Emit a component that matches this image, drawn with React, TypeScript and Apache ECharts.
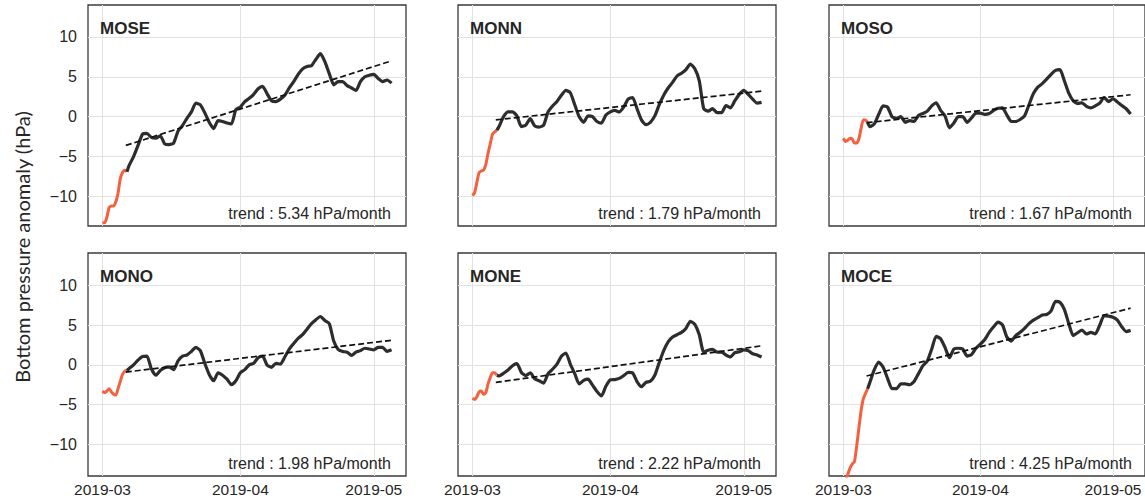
import React, { useEffect, useRef } from "react";
import * as echarts from "echarts";

// ---- data (days since 2019-03-01) ----
const PANELS = ["MOSE", "MONN", "MOSO", "MONO", "MONE", "MOCE"];
const TRENDS = ["5.34", "1.79", "1.67", "1.98", "2.22", "4.25"];

const RED_DAYS = [0, 0.5, 1, 1.5, 2, 2.5, 3, 3.5, 4, 4.5, 5, 5.5];
const BLACK_DAYS = Array.from({ length: 60 }, (_, i) => 6 + i);
const TREND_DAYS = [5.25, 65];

const X_TICK_DAYS = [0, 31, 61];
const X_TICK_LABELS = ["2019-03", "2019-04", "2019-05"];
const Y_TICKS = [-10, -5, 0, 5, 10];

const MOSE_RED = [-13.3, -13.3, -12.6, -11.4, -11.2, -11.2, -10.7, -9.6, -7.8, -7.0, -6.7, -6.9];
const MOSE = [-6.1, -5.0, -3.6, -2.2, -2.1, -2.6, -2.7, -2.4, -3.4, -3.5, -3.3, -1.8, -1.1, -0.2, 0.6, 1.7, 1.5, 0.5, -0.7, -1.5,
  -0.5, -0.6, -0.8, -0.9, 0.9, 1.2, 1.9, 2.3, 2.8, 3.5, 3.8, 2.9, 2.0, 1.9, 2.2, 2.7, 3.6, 4.4, 5.3, 6.0,
  6.3, 6.4, 7.2, 7.9, 6.9, 5.4, 4.0, 4.4, 4.4, 3.9, 3.6, 3.3, 4.4, 5.0, 5.2, 5.3, 4.8, 4.4, 4.6, 4.2];
const MOSE_TREND = [-3.6, 7.0];

const MONN_RED = [-9.9, -9.5, -8.2, -7.0, -6.8, -6.7, -6.0, -4.6, -3.4, -2.2, -1.9, -1.7];
const MONN = [-1.2, 0, 0.6, 0.6, 0.1, -1.25, -1.05, -0.25, -1.15, -1.3, -1.05, 0.6, 1.35, 1.9, 2.7, 3.3, 3.0, 1.5, 0, -0.7,
  0.1, 0, -0.6, -0.8, 0.2, 0.6, 0.8, 0.6, 1.2, 2.2, 2.4, 1.0, -0.4, -1.0, -0.7, 0.1, 1.5, 2.7, 3.6, 4.3,
  5.1, 5.45, 5.9, 6.6, 6.0, 4.5, 1.0, 0.7, 1.0, 0.5, 0.5, 1.4, 1.1, 2.0, 2.8, 3.3, 2.8, 2.2, 1.7, 1.8];
const MONN_TREND = [-0.4, 3.2];

const MOSO_RED = [-2.7, -3.1, -2.95, -2.7, -2.8, -3.3, -3.3, -2.8, -1.5, -0.4, -0.4, -0.75];
const MOSO = [-1.25, -0.9, 0.3, 1.35, 1.2, 0, -0.2, 0, -0.7, -0.5, -0.6, 0.15, 0.4, 0.7, 1.35, 1.75, 0.8, 0.1, -1.4, -0.8,
  0, 0, -0.7, -0.15, 0.45, 0.45, 0.3, 0.4, 0.8, 1.05, 1.1, 0.2, -0.6, -0.6, -0.35, 0.1, 1.5, 2.9, 3.7, 4.15,
  4.7, 5.3, 5.8, 5.9, 4.5, 2.95, 2.0, 1.65, 1.75, 1.3, 1.1, 1.35, 1.7, 2.4, 1.9, 2.25, 1.85, 1.4, 1.0, 0.35];
const MOSO_TREND = [-0.75, 2.75];

const MONO_RED = [-3.3, -3.5, -3.3, -3.0, -3.4, -3.7, -3.8, -3.0, -2.1, -1.2, -0.8, -0.7];
const MONO = [-0.45, 0, 0.6, 1.05, 1.1, -0.5, -1.3, -0.7, -0.35, -0.25, -0.6, 0.5, 1.1, 1.25, 1.7, 2.2, 1.8, 0.2, -1.2, -2.0,
  -1.0, -1.3, -1.8, -2.5, -2.0, -1.0, -0.6, 0, 0.2, 0.9, 1.1, 0, -0.3, 0.2, 0.1, 1.0, 2.0, 2.7, 3.35, 3.8,
  4.5, 5.2, 5.7, 6.1, 5.6, 5.2, 3.0, 1.95, 1.7, 1.6, 1.2, 1.6, 1.8, 2.1, 2.0, 1.9, 2.2, 2.2, 1.7, 1.9];
const MONO_TREND = [-0.9, 3.1];

const MONE_RED = [-4.2, -4.35, -4.0, -3.4, -3.3, -3.7, -3.5, -2.4, -1.6, -1.0, -1.0, -1.3];
const MONE = [-1.4, -1.05, -0.65, -0.1, 0.15, -0.95, -1.35, -1.0, -1.75, -2.0, -2.3, -1.1, -0.55, 0.1, 1.1, 1.5, 0.1, -1.1, -2.4, -1.95,
  -1.8, -2.55, -3.35, -3.9, -2.7, -1.9, -1.85, -1.7, -1.35, -0.95, -1.0, -2.1, -2.75, -2.2, -2.05, -1.3, 0.3, 1.8, 2.9, 3.5,
  3.8, 4.1, 4.6, 5.5, 5.1, 3.8, 1.6, 1.85, 1.95, 1.6, 1.6, 1.25, 1.0, 1.55, 1.65, 1.9, 1.8, 1.4, 1.25, 1.0];
const MONE_TREND = [-2.2, 2.4];

const MOCE_RED = [-15.0, -14.5, -13.8, -13.0, -12.5, -12.2, -10.3, -8.0, -5.8, -4.3, -3.6, -3.0];
const MOCE = [-2.2, -0.6, 0.35, -0.3, -1.7, -3.0, -3.0, -2.4, -2.4, -2.5, -2.1, -1.1, -0.1, 0.5, 2.0, 3.6, 3.3, 2.2, 0.9, 2.0,
  2.1, 2.0, 1.1, 1.3, 2.1, 2.6, 3.2, 4.1, 4.8, 5.4, 5.05, 3.5, 3.0, 3.7, 4.1, 4.6, 5.2, 5.65, 5.95, 6.3,
  6.35, 6.8, 8.0, 7.9, 7.0, 5.2, 3.7, 4.05, 4.4, 3.9, 4.1, 3.9, 5.0, 6.2, 6.15, 6.0, 5.65, 4.8, 4.2, 4.35];
const MOCE_TREND = [-1.4, 7.15];

const RED_SERIES = [MOSE_RED, MONN_RED, MOSO_RED, MONO_RED, MONE_RED, MOCE_RED];
const BLACK_SERIES = [MOSE, MONN, MOSO, MONO, MONE, MOCE];
const TREND_SERIES = [MOSE_TREND, MONN_TREND, MOSO_TREND, MONO_TREND, MONE_TREND, MOCE_TREND];

// ---- layout ----
const COL_LEFT = [88, 458, 829];
const COL_WIDTH = 318;
const ROW_TOP = [5, 253];
const ROW_HEIGHT = [221, 223];
const ROW_YMIN = [-13.7, -14];
const ROW_YMAX = [14, 14.1];
const X_MIN = -3.25;
const X_MAX = 68.25;

const TEXT = "#262626";
const FONT = "'Liberation Sans', Arial, sans-serif";

export default function App() {
  const ref = useRef<HTMLDivElement>(null);

  useEffect(() => {
    if (!ref.current) return;
    const chart = echarts.init(ref.current, undefined, { renderer: "svg" });

    const grids: any[] = [];
    const xAxes: any[] = [];
    const yAxes: any[] = [];
    const series: any[] = [];
    const graphics: any[] = [];

    PANELS.forEach((name, i) => {
      const row = Math.floor(i / 3);
      const col = i % 3;
      const left = COL_LEFT[col];
      const top = ROW_TOP[row];
      const h = ROW_HEIGHT[row];
      grids.push({
        left,
        top,
        width: COL_WIDTH,
        height: h,
        show: true,
        borderColor: "#3a3a3a",
        borderWidth: 1.3,
        backgroundColor: "#fff",
        containLabel: false,
      });
      xAxes.push({
        gridIndex: i,
        type: "value",
        min: X_MIN,
        max: X_MAX,
        axisLine: { show: false },
        axisTick: { show: false, customValues: X_TICK_DAYS },
        splitLine: { show: true, lineStyle: { color: "#e2e2e2", width: 1 } },
        axisLabel: {
          show: row === 1,
          customValues: X_TICK_DAYS,
          margin: 5,
          fontSize: 15.5,
          color: TEXT,
          fontFamily: FONT,
          formatter: (v: number) => {
            const k = X_TICK_DAYS.indexOf(Math.round(v));
            return k >= 0 ? X_TICK_LABELS[k] : "";
          },
        },
      });
      yAxes.push({
        gridIndex: i,
        type: "value",
        min: ROW_YMIN[row],
        max: ROW_YMAX[row],
        axisLine: { show: false },
        axisTick: { show: false, customValues: Y_TICKS },
        splitLine: { show: true, lineStyle: { color: "#e2e2e2", width: 1 } },
        axisLabel: {
          show: col === 0,
          customValues: Y_TICKS,
          margin: 11,
          fontSize: 16,
          color: TEXT,
          fontFamily: FONT,
          formatter: (v: number) => String(v).replace("-", "\u2212"),
        },
      });

      const red = RED_SERIES[i];
      const blk = BLACK_SERIES[i];
      const tr = TREND_SERIES[i];
      series.push({
        type: "line",
        xAxisIndex: i,
        yAxisIndex: i,
        data: RED_DAYS.map((d, k) => [d, red[k]]),
        showSymbol: false,
        smooth: 0.2,
        clip: true,
        lineStyle: { color: "#f5603f", width: 3 },
        z: 3,
      });
      series.push({
        type: "line",
        xAxisIndex: i,
        yAxisIndex: i,
        data: [[RED_DAYS[RED_DAYS.length - 1], red[red.length - 1]]].concat(
          BLACK_DAYS.map((d, k) => [d, blk[k]])
        ),
        showSymbol: false,
        smooth: 0.2,
        clip: true,
        lineStyle: { color: "#2d2d2d", width: 3.2 },
        z: 3,
      });
      series.push({
        type: "line",
        xAxisIndex: i,
        yAxisIndex: i,
        data: TREND_DAYS.map((d, k) => [d, tr[k]]),
        showSymbol: false,
        clip: true,
        lineStyle: { color: "#111", width: 1.7, type: [6, 3] },
        z: 4,
      });

      graphics.push({
        type: "text",
        x: left + 12,
        y: top + 23,
        style: {
          text: name,
          font: `bold 17px ${FONT}`,
          fill: TEXT,
          textAlign: "left",
          textVerticalAlign: "middle",
        },
        z: 10,
      });
      graphics.push({
        type: "text",
        x: left + COL_WIDTH - 15,
        y: top + h - 12.5,
        style: {
          text: `trend : ${TRENDS[i]} hPa/month`,
          font: `16px ${FONT}`,
          fill: TEXT,
          textAlign: "right",
          textVerticalAlign: "middle",
        },
        z: 10,
      });
    });

    graphics.push({
      type: "text",
      x: 22,
      y: 247,
      rotation: Math.PI / 2,
      style: {
        text: "Bottom pressure anomaly (hPa)",
        font: "20px Lato, 'Open Sans', sans-serif",
        fill: TEXT,
        textAlign: "center",
        textVerticalAlign: "middle",
      },
    });

    chart.setOption({
      animation: false,
      backgroundColor: "#fff",
      grid: grids,
      xAxis: xAxes,
      yAxis: yAxes,
      series,
      graphic: graphics,
    });

    return () => chart.dispose();
  }, []);

  return (
    <div
      ref={ref}
      style={{ position: "absolute", left: 0, top: 0, width: 1145, height: 502 }}
    />
  );
}
